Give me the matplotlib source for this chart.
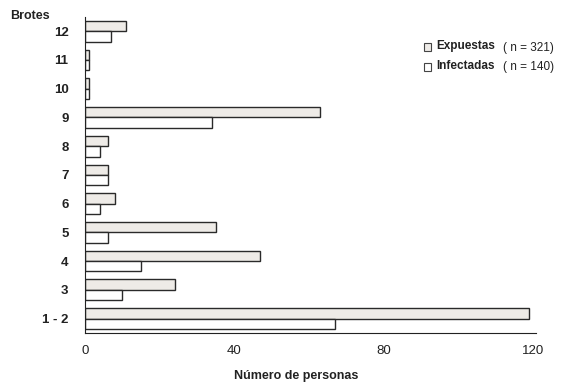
import matplotlib
matplotlib.use("Agg")
import matplotlib.pyplot as plt
import numpy as np
from matplotlib.patches import Rectangle

categories = ["1 - 2", "3", "4", "5", "6", "7", "8", "9", "10", "11", "12"]
expuestas = [119, 24, 47, 35, 8, 6, 6, 63, 1, 1, 11]
infectadas = [67, 10, 15, 6, 4, 6, 4, 34, 1, 1, 7]
xticks = [0, 40, 80, 120]

plt.rcParams['font.family'] = ['Liberation Sans', 'DejaVu Sans']

fig = plt.figure(figsize=(5.64, 3.84), dpi=100)
ax = fig.add_axes([0.151, 0.133, 0.80, 0.823])

y = np.arange(len(categories))
h = 0.36
ax.barh(y + h / 2, expuestas, height=h, color='#eeebe7', edgecolor='#2a2a2a', linewidth=1.0)
ax.barh(y - h / 2, infectadas, height=h, color='white', edgecolor='#2a2a2a', linewidth=1.0)

ax.set_xlim(0, 121)
ax.set_ylim(-0.5, 10.5)
ax.set_yticks(y)
ax.set_yticklabels(categories, fontsize=9.5, fontweight='bold', color='#222222')
ax.set_xticks(xticks)
ax.set_xticklabels([str(t) for t in xticks], fontsize=9.5, color='#222222')
ax.tick_params(axis='y', length=0, pad=12)
ax.tick_params(axis='x', length=0, pad=9)
for s in ['top', 'right']:
    ax.spines[s].set_visible(False)
ax.spines['left'].set_color('#222222')
ax.spines['bottom'].set_color('#222222')

fig.text(296 / 564, 1 - 376 / 384, "Número de personas", ha='center', va='center',
         fontsize=9, fontweight='bold', color='#222222')
fig.text(10 / 564, 1 - 16 / 384, "Brotes", ha='left', va='center',
         fontsize=9, fontweight='bold', color='#222222')

# legend
fig.patches.append(Rectangle((424 / 564, 1 - 51 / 384), 7 / 564, 8 / 384,
                             transform=fig.transFigure, facecolor='#eeebe7',
                             edgecolor='#444444', linewidth=0.8))
fig.patches.append(Rectangle((424 / 564, 1 - 71 / 384), 7 / 564, 8 / 384,
                             transform=fig.transFigure, facecolor='white',
                             edgecolor='#444444', linewidth=0.8))
fig.text(436 / 564, 1 - 46 / 384, "Expuestas", ha='left', va='center',
         fontsize=8.5, fontweight='bold', color='#222222')
fig.text(436 / 564, 1 - 66 / 384, "Infectadas", ha='left', va='center',
         fontsize=8.5, fontweight='bold', color='#222222')
fig.text(503 / 564, 1 - 48 / 384, "( n = 321)", ha='left', va='center',
         fontsize=8.5, color='#222222')
fig.text(503 / 564, 1 - 67 / 384, "( n = 140)", ha='left', va='center',
         fontsize=8.5, color='#222222')

fig.savefig("out.png", dpi=100)
